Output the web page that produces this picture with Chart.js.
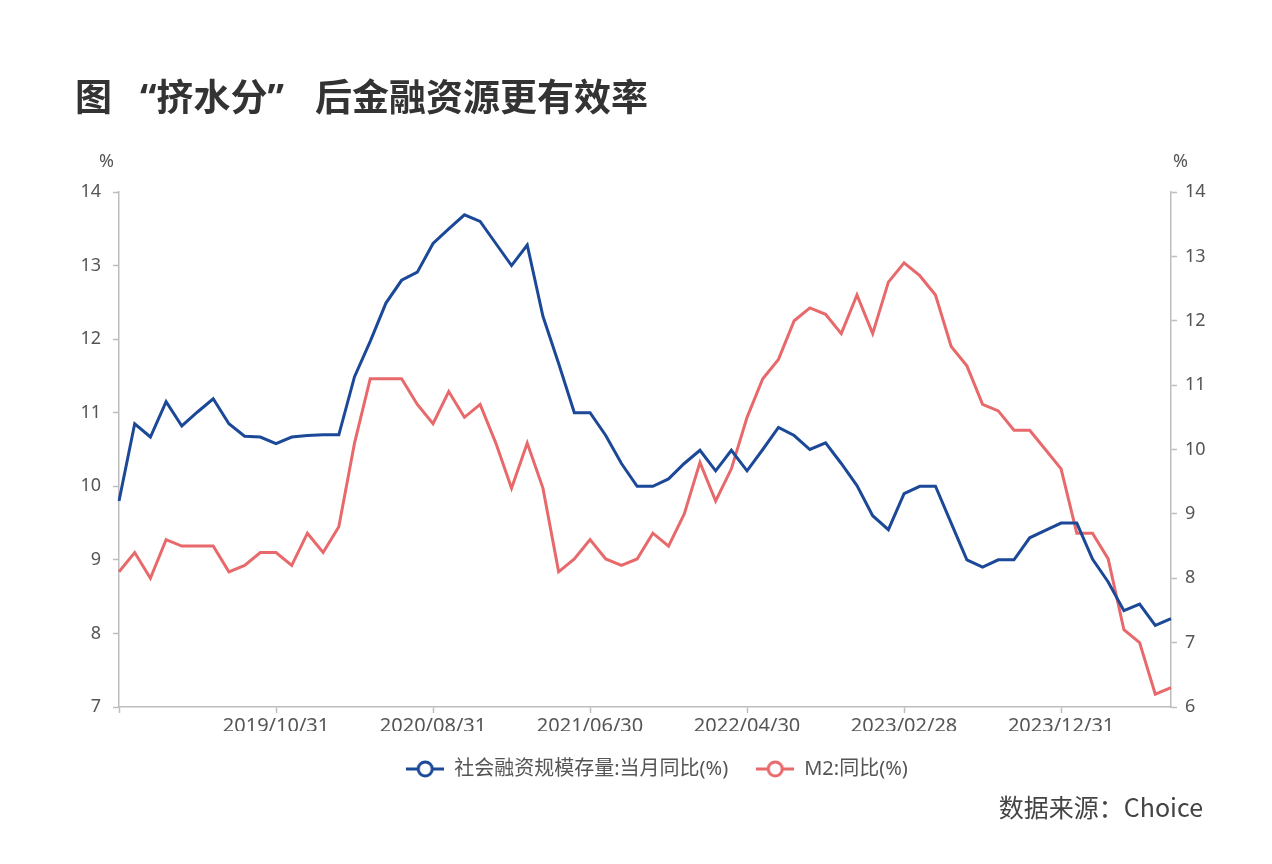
<!DOCTYPE html>
<html>
<head>
<meta charset="utf-8">
<script src="https://cdn.jsdelivr.net/npm/chart.js@4.4.0/dist/chart.umd.min.js"></script>
<style>
  body { margin: 0; background: #fff; }
  #wrap { position: relative; width: 1272px; height: 864px; }
  #myChart { position: absolute; left: 0; top: 0; }
  .txt { position: absolute; white-space: nowrap; font-family: "Noto Sans", "Noto Sans CJK SC", sans-serif; }
  .title { font-size: 37px; font-weight: bold; color: #333; line-height: 37px; top: 78px; }
  .unit { font-size: 18px; color: #555; top: 148px; }
  .src { font-size: 25px; color: #444; top: 788px; right: 69px; font-family: "Noto Sans CJK SC", sans-serif; }
</style>
</head>
<body>
<div id="wrap">
  <canvas id="myChart" width="1272" height="864"></canvas>
  <div class="txt title" style="left:75px">图</div>
  <div class="txt title" style="left:140px">“挤水分”</div>
  <div class="txt title" style="left:315px">后金融资源更有效率</div>
  <div class="txt unit" style="left:99px">%</div>
  <div class="txt unit" style="left:1173px">%</div>
  <div class="txt src">数据来源：Choice</div>
</div>
<script>
// month ends, 2018/12 .. 2024/07
var xValues = [];
for (var y = 2018, m = 12; y < 2024 || (y === 2024 && m <= 7); ) {
  var last = new Date(y, m, 0).getDate();
  xValues.push(y + "/" + (m < 10 ? "0" + m : m) + "/" + last);
  m++;
  if (m > 12) { m = 1; y++; }
}

// 社会融资规模存量:当月同比(%)  (left axis)
var tsfValues = [
  9.8, 10.85, 10.67, 11.15, 10.82, 11.01, 11.19, 10.85, 10.68, 10.67,
  10.58, 10.67, 10.69, 10.7, 10.7, 11.49, 11.97, 12.49, 12.8, 12.91,
  13.3, 13.5, 13.69, 13.6, 13.3, 13.0, 13.28, 12.31, 11.67, 11.0,
  11.0, 10.69, 10.31, 10.0, 10.0, 10.1, 10.31, 10.49, 10.21, 10.49,
  10.21, 10.5, 10.8, 10.69, 10.5, 10.59, 10.31, 10.01, 9.6, 9.41,
  9.9, 10.0, 10.0, 9.5, 9.0, 8.9, 9.0, 9.0, 9.3, 9.4,
  9.5, 9.5, 9.01, 8.7, 8.31, 8.4, 8.11, 8.2
];

// M2:同比(%)  (right axis)
var m2Values = [
  8.1, 8.4, 8.0, 8.6, 8.5, 8.5, 8.5, 8.1, 8.2, 8.4,
  8.4, 8.2, 8.7, 8.4, 8.8, 10.1, 11.1, 11.1, 11.1, 10.7,
  10.4, 10.9, 10.5, 10.7, 10.1, 9.4, 10.1, 9.4, 8.1, 8.3,
  8.6, 8.3, 8.2, 8.3, 8.7, 8.5, 9.0, 9.8, 9.2, 9.7,
  10.5, 11.1, 11.4, 12.0, 12.2, 12.1, 11.8, 12.4, 11.8, 12.6,
  12.9, 12.7, 12.4, 11.6, 11.3, 10.7, 10.6, 10.3, 10.3, 10.0,
  9.7, 8.7, 8.7, 8.3, 7.2, 7.0, 6.2, 6.3
];

var leftTicks = [7, 14];
var rightTicks = [6, 14];

var seriesNames = ["社会融资规模存量:当月同比(%)", "M2:同比(%)"];
var seriesColors = ["#1c4898", "#e8696b"];

var axisColor = "#bdbdbd";
var textColor = "#555";

function legendIcon(color) {
  var c = document.createElement("canvas");
  c.width = 38;
  c.height = 18;
  var g = c.getContext("2d");
  g.strokeStyle = color;
  g.lineWidth = 3;
  g.beginPath();
  g.moveTo(0, 9);
  g.lineTo(38, 9);
  g.stroke();
  g.beginPath();
  g.arc(19, 9, 7, 0, Math.PI * 2);
  g.fillStyle = "#fff";
  g.fill();
  g.stroke();
  return c;
}

Chart.defaults.font.family = '"Noto Sans", "Noto Sans CJK SC", sans-serif';
Chart.defaults.color = textColor;

new Chart("myChart", {
  type: "line",
  data: {
    labels: xValues,
    datasets: [
      {
        label: seriesNames[0],
        data: tsfValues,
        borderColor: seriesColors[0],
        backgroundColor: seriesColors[0],
        borderWidth: 3,
        pointRadius: 0,
        tension: 0,
        yAxisID: "y",
      },
      {
        label: seriesNames[1],
        data: m2Values,
        borderColor: seriesColors[1],
        backgroundColor: seriesColors[1],
        borderWidth: 3,
        pointRadius: 0,
        tension: 0,
        yAxisID: "y1",
      },
    ],
  },
  options: {
    responsive: false,
    animation: false,
    events: [],
    devicePixelRatio: 1,
    layout: {
      padding: { top: 192, left: 42, right: 0, bottom: 75 },
    },
    plugins: {
      tooltip: { enabled: false },
      legend: {
        display: true,
        position: "bottom",
        labels: {
          usePointStyle: true,
          pointStyleWidth: 38,
          padding: 28,
          color: textColor,
          font: { size: 20 },
          generateLabels: function (chart) {
            var items = Chart.defaults.plugins.legend.labels.generateLabels(chart);
            items.forEach(function (it, i) {
              it.pointStyle = legendIcon(seriesColors[i]);
            });
            return items;
          },
        },
      },
    },
    scales: {
      x: {
        offset: false,
        afterFit: function (s) { s.height = 24; },
        grid: {
          display: true,
          drawOnChartArea: false,
          drawTicks: true,
          tickLength: 6,
          tickWidth: 1.5,
          tickColor: function (ctx) {
            return ctx.index % 10 === 0 ? axisColor : "rgba(0,0,0,0)";
          },
        },
        border: { display: true, color: axisColor, width: 1.5 },
        ticks: {
          autoSkip: false,
          maxRotation: 0,
          padding: 1,
          color: textColor,
          font: { size: 20 },
          callback: function (v, i) {
            return i % 10 === 0 && i > 0 ? xValues[i] : "";
          },
        },
      },
      y: {
        position: "left",
        min: leftTicks[0],
        max: leftTicks[1],
        afterFit: function (s) { s.width = 77; },
        grid: {
          display: true,
          drawOnChartArea: false,
          tickLength: 6,
          tickWidth: 1.5,
          tickColor: axisColor,
        },
        border: { display: true, color: axisColor, width: 1.5 },
        ticks: { stepSize: 1, padding: 12, color: textColor, font: { size: 18 } },
      },
      y1: {
        position: "right",
        min: rightTicks[0],
        max: rightTicks[1],
        afterFit: function (s) { s.width = 101; },
        grid: {
          display: true,
          drawOnChartArea: false,
          tickLength: 6,
          tickWidth: 1.5,
          tickColor: axisColor,
        },
        border: { display: true, color: axisColor, width: 1.5 },
        ticks: { stepSize: 1, padding: 8, color: textColor, font: { size: 18 } },
      },
    },
  },
});
</script>
</body>
</html>
